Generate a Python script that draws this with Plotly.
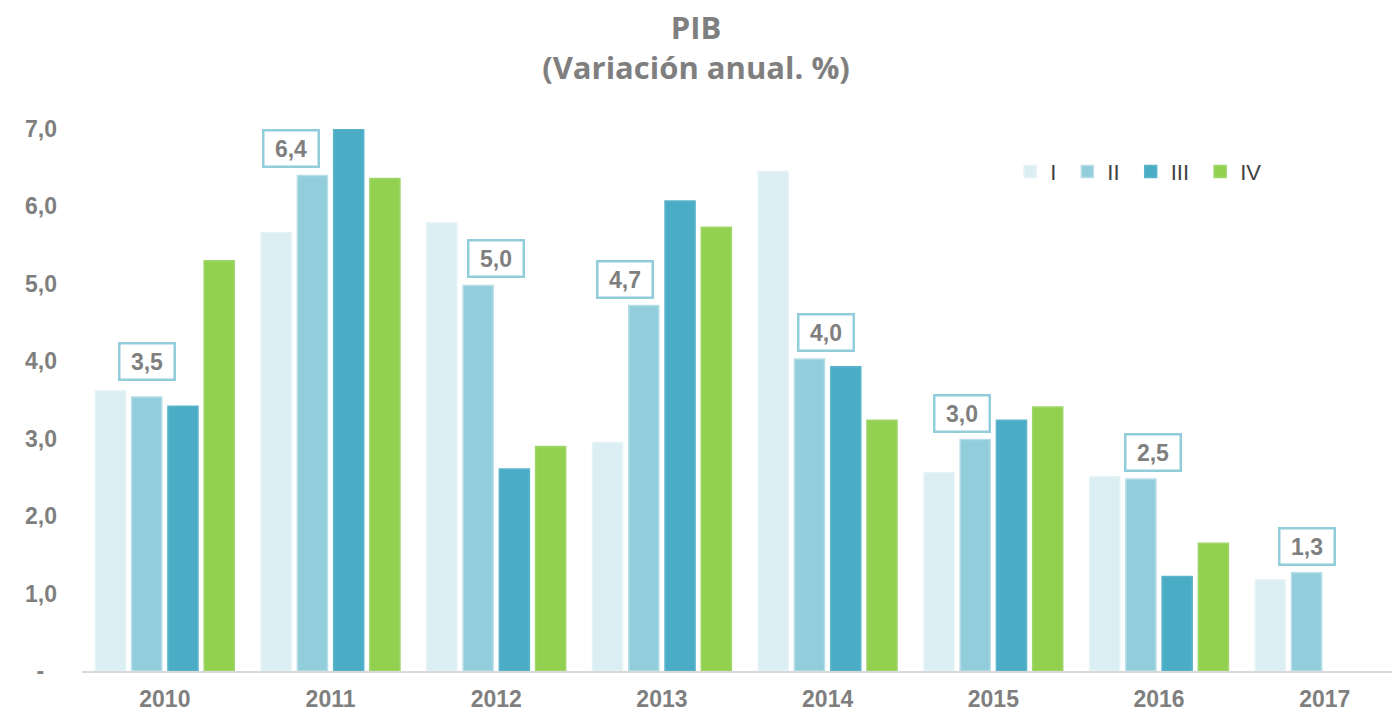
import plotly.graph_objects as go

years = ["2010", "2011", "2012", "2013", "2014", "2015", "2016", "2017"]
q1 = [3.62, 5.66, 5.79, 2.95, 6.45, 2.56, 2.51, 1.18]
q2 = [3.54, 6.40, 4.98, 4.72, 4.03, 2.99, 2.48, 1.27]
q3 = [3.42, 7.00, 2.61, 6.07, 3.93, 3.24, 1.22, None]
q4 = [5.30, 6.36, 2.90, 5.73, 3.24, 3.41, 1.65, None]
series_names = ["I", "II", "III", "IV"]
label_texts = ["3,5", "6,4", "5,0", "4,7", "4,0", "3,0", "2,5", "1,3"]
y_tickvals = [0, 1, 2, 3, 4, 5, 6, 7]
y_ticktext = ["-\u2007", "1,0", "2,0", "3,0", "4,0", "5,0", "6,0", "7,0"]

# label box placement offsets (pixels), as hand-placed in the original
label_dx = [0, -22, 18, -19, 16, -13, 12, 0]
label_dy = [16, 7, 7, 7, 7, 6, 7, 7]

colors = ["#DAEEF3", "#92CDDC", "#4BACC6", "#92D050"]
line_colors = ["#E6F3F7", "#B7DEE8", "#5DB5CC", "#A0D66A"]
gray = "#7F7F7F"
tick_font = dict(family="Liberation Sans, Arial", size=23, color=gray, weight="bold")

fig = go.Figure()
for name, vals, c, lc in zip(series_names, [q1, q2, q3, q4], colors, line_colors):
    fig.add_trace(go.Bar(
        x=years, y=vals, name=name + "\u00a0",
        marker=dict(color=c, line=dict(color=lc, width=1.5)),
    ))

# data labels on series II (category axis -> serial index)
for i, (v, t) in enumerate(zip(q2, label_texts)):
    fig.add_annotation(
        x=i, y=v, xref="x", yref="y", text="<b>" + t + "</b>",
        showarrow=False, yanchor="bottom", xanchor="center",
        xshift=-18 + label_dx[i], yshift=label_dy[i],
        font=dict(family="Liberation Sans, Arial", size=23, color=gray),
        bgcolor="white", bordercolor="#92CDDC", borderwidth=2.5,
        borderpad=1, width=51, height=32, align="center",
    )

fig.update_layout(
    width=1392, height=712,
    margin=dict(l=82, r=0, t=129, b=39),
    paper_bgcolor="white", plot_bgcolor="white",
    barmode="group", bargap=0.125, bargroupgap=0.17,
    title=dict(
        text="<b>PIB<br>(Variación anual. %)</b>",
        x=0.5, xref="container", y=1 - 39 / 712, yref="container",
        yanchor="middle", xanchor="center",
        font=dict(family="Open Sans, Lato", size=31, color=gray),
    ),
    showlegend=True,
    legend=dict(
        orientation="h", x=0.7085, y=0.921, xanchor="left", yanchor="middle",
        font=dict(family="Liberation Sans, Arial", size=22, color="#404040"),
        bgcolor="rgba(0,0,0,0)", traceorder="normal",
    ),
    xaxis=dict(
        type="category", range=[-0.5, 7.406],
        showgrid=False, showline=True, linecolor="#D9D9D9", linewidth=2,
        ticks="", ticklabelstandoff=6, tickfont=tick_font,
    ),
    yaxis=dict(
        range=[0, 7.0], tickvals=y_tickvals, ticktext=y_ticktext,
        showgrid=False, zeroline=False, showline=False, ticks="",
        ticklabelstandoff=24, tickfont=tick_font,
    ),
)

fig.write_html("out.html", config={"displayModeBar": False},
               post_script="document.body.style.margin='0';")
